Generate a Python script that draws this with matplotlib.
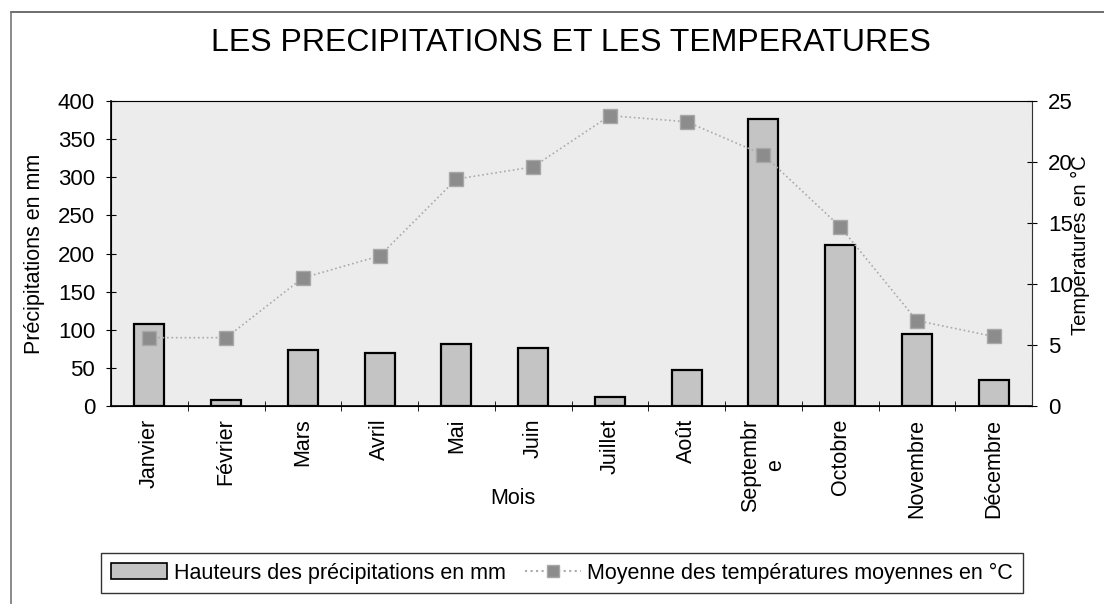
import matplotlib.pyplot as plt
from matplotlib.lines import Line2D
from matplotlib.patches import Patch

plt.rcParams['font.family'] = ['Liberation Sans', 'DejaVu Sans']

# donnees
mois = ['Janvier', 'Février', 'Mars', 'Avril', 'Mai', 'Juin', 'Juillet',
        'Août', 'Septembr\ne', 'Octobre', 'Novembre', 'Décembre']
precipitations = [108, 8, 73, 70, 81, 76, 12, 47, 376, 211, 94, 34]
temperatures = [5.6, 5.6, 10.5, 12.3, 18.6, 19.6, 23.8, 23.3, 20.6, 14.7, 7.0, 5.7]

W, H = 1104, 604
fig = plt.figure(figsize=(W / 100, H / 100), dpi=100)
ax1 = fig.add_axes([111 / W, 1 - 406 / H, 921 / W, 305 / H])
ax1.set_facecolor('#ececec')

x = list(range(len(mois)))
ax1.bar(x, precipitations, width=0.39, color='#c4c4c4',
        edgecolor='black', linewidth=1.6, zorder=2)
ax1.set_xlim(-0.5, len(mois) - 0.5)
ax1.set_ylim(0, 400)
ax1.set_yticks(range(0, 401, 50))
ax1.set_xticks(x)
ax1.set_xticklabels(mois, rotation=90, va='top', ha='center', fontsize=15.5,
                    linespacing=1.25)
ax1.tick_params(axis='x', length=0, pad=9)
# petites graduations entre les mois
ax1.set_xticks([i + 0.5 for i in x[:-1]], minor=True)
ax1.tick_params(axis='x', which='minor', length=7, direction='inout')
ax1.tick_params(axis='y', labelsize=16, length=7, direction='inout', pad=8)
ax1.set_ylabel('Précipitations en mm', fontsize=15.5)
ax1.yaxis.set_label_coords((45 - 111) / 921, 0.5)
ax1.set_xlabel('Mois', fontsize=15.5)
ax1.xaxis.set_label_coords((513 - 111) / 921, -(488 - 406) / 305)

for cote in ['top', 'right']:
    ax1.spines[cote].set_color('#888888')
    ax1.spines[cote].set_linestyle(':')
ax1.spines['left'].set_linewidth(1.2)
ax1.spines['bottom'].set_linewidth(1.2)

ax2 = ax1.twinx()
ax2.plot(x, temperatures, linestyle=':', color='#aaaaaa', linewidth=1.2,
         marker='s', markersize=10, markerfacecolor='#8c8c8c',
         markeredgecolor='#a8a8a8', zorder=3)
ax2.set_ylim(0, 25)
ax2.set_yticks(range(0, 26, 5))
ax2.tick_params(axis='y', labelsize=16, length=7, direction='inout', pad=8)
ax2.set_ylabel('Températures en °C', fontsize=14.5)
ax2.yaxis.set_label_coords((1071 - 111) / 921, (406 - 245) / 305)
ax2.spines['right'].set_color('#333333')
ax2.spines['right'].set_linestyle('-')

fig.text(571 / W, 1 - 43 / H, 'LES PRECIPITATIONS ET LES TEMPERATURES',
         ha='center', va='center', fontsize=23)

poignees = [Patch(facecolor='#c4c4c4', edgecolor='black', linewidth=1.2),
            Line2D([0], [0], linestyle=':', color='#aaaaaa', marker='s',
                   markersize=9, markerfacecolor='#8c8c8c', markeredgecolor='#a8a8a8')]
leg = fig.legend(poignees, ['Hauteurs des précipitations en mm',
                            'Moyenne des températures moyennes en °C'],
                 loc='center', bbox_to_anchor=(562 / W, 1 - 573 / H),
                 ncol=2, fontsize=15.5, frameon=True, fancybox=False,
                 edgecolor='black', handlelength=2.6, columnspacing=0.9,
                 handletextpad=0.3, borderpad=0.45, borderaxespad=0)
leg.get_frame().set_linewidth(1.0)

# cadre exterieur
fig.add_artist(Line2D([11 / W, 1], [1 - 12 / H, 1 - 12 / H],
                      color='#555555', linewidth=1.2))
fig.add_artist(Line2D([11 / W, 11 / W], [0, 1 - 12 / H],
                      color='#777777', linewidth=1.2))

fig.savefig('out.png', dpi=100)
